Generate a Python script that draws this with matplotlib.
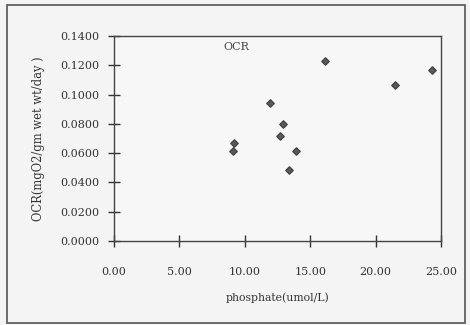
import matplotlib
matplotlib.use("Agg")
import matplotlib.pyplot as plt
from matplotlib.patches import Rectangle

# phosphate concentration vs oxygen consumption rate
phosphate = [16.15, 24.3, 21.5, 11.9, 12.9, 12.7, 9.2, 9.1, 13.9, 13.4]
ocr = [0.1231, 0.1169, 0.1066, 0.0940, 0.0800, 0.0720, 0.0666, 0.0613, 0.0613, 0.0485]

x_ticks = [0, 5, 10, 15, 20, 25]
y_ticks = [0, 0.02, 0.04, 0.06, 0.08, 0.10, 0.12, 0.14]

plt.rcParams['font.family'] = ['DejaVu Serif']

fig = plt.figure(figsize=(4.7, 3.25), dpi=100)
fig.patch.set_facecolor("#f4f4f4")
fig.patches.append(Rectangle((0.015, 0.006), 0.974, 0.978, transform=fig.transFigure,
                             fill=False, edgecolor="#555555", lw=1.2))

ax = fig.add_axes([0.2426, 0.2585, 0.6957, 0.6308])
ax.set_facecolor("#f7f7f7")
ax.scatter(phosphate, ocr, marker="D", s=14, color="#5a5a5a", edgecolors="#444444", zorder=3)

ax.set_xlim(0, 25)
ax.set_ylim(0, 0.14)
ax.set_xticks(x_ticks)
ax.set_xticklabels([f"{v:.2f}" for v in x_ticks])
ax.set_yticks(y_ticks)
ax.set_yticklabels([f"{v:.4f}" for v in y_ticks])
ax.tick_params(axis="both", direction="inout", length=9, width=1.0, color="#333333",
               labelsize=8, labelcolor="#333333")
ax.tick_params(axis="x", pad=14)
ax.tick_params(axis="y", pad=6)
for s in ax.spines.values():
    s.set_color("#444444")
    s.set_linewidth(1.0)

ax.text(0.375, 0.945, "OCR", transform=ax.transAxes, ha="center", va="center",
        fontsize=8, color="#444444")
ax.set_xlabel("phosphate(umol/L)", fontsize=7.8, color="#333333", labelpad=11)
ax.set_ylabel("OCR(mgO2/gm wet wt/day )", fontsize=8.3, color="#333333", labelpad=11)

fig.savefig("out.png", dpi=100)
